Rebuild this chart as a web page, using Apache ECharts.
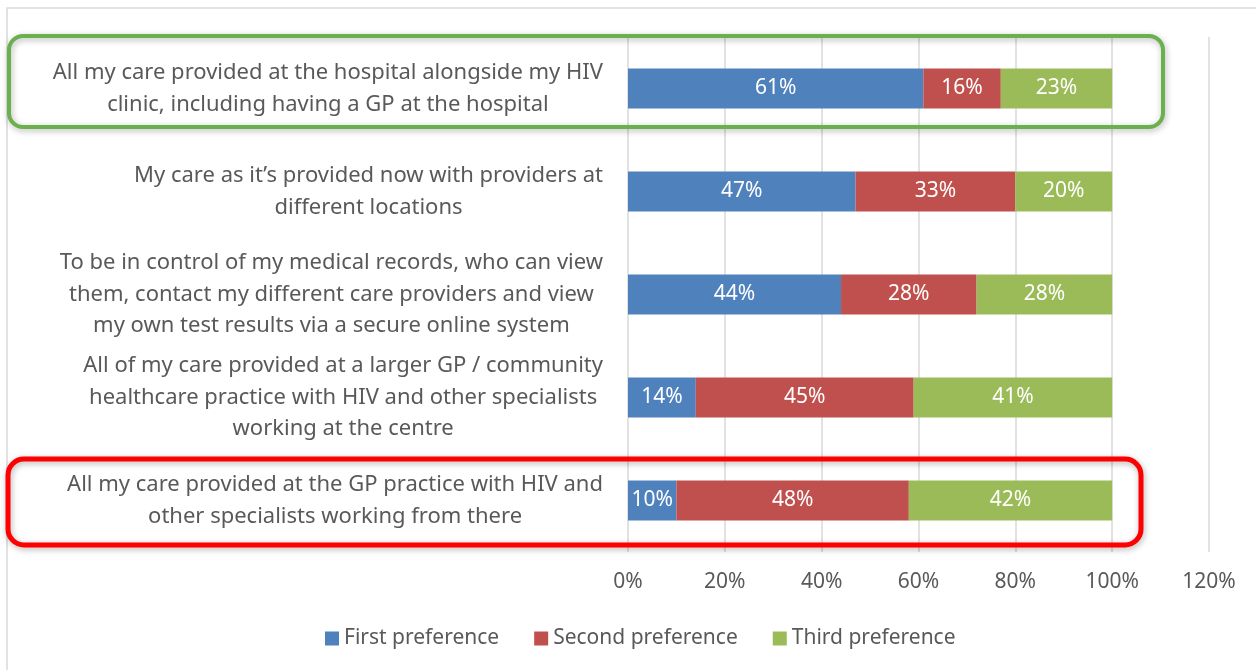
<!DOCTYPE html>
<html>
<head>
<meta charset="utf-8">
<script src="https://cdn.jsdelivr.net/npm/echarts@6/dist/echarts.min.js"></script>
<style>
  html, body { margin: 0; padding: 0; background: #fff; }
  #chart { width: 1256px; height: 670px; }
</style>
</head>
<body>
<div id="chart"></div>
<script>
var categories = [
  'All my care provided at the hospital alongside my HIV\nclinic, including having a GP at the hospital',
  'My care as it\u2019s provided now with providers at\ndifferent locations',
  'To be in control of my medical records, who can view\nthem, contact my different care providers and view\nmy own test results via a secure online system',
  'All of my care provided at a larger GP / community\nhealthcare practice with HIV and other specialists\nworking at the centre',
  'All my care provided at the GP practice with HIV and\nother specialists working from there'
];
var seriesNames = ['First preference', 'Second preference', 'Third preference'];
var firstPref = [61, 47, 44, 14, 10];
var secondPref = [16, 33, 28, 45, 48];
var thirdPref = [23, 20, 28, 41, 42];
var axisTicks = [0, 20, 40, 60, 80, 100, 120];

var FONT = '"Noto Sans", sans-serif';
var TEXT = '#595959';
var colors = ['#4F81BD', '#C0504D', '#9BBB59'];

var myChart = echarts.init(document.getElementById('chart'));

function barSeries(name, data, color) {
  return {
    name: name,
    type: 'bar',
    stack: 'total',
    barWidth: 40,
    data: data,
    itemStyle: { color: color },
    label: {
      show: true,
      position: 'inside',
      color: '#fff',
      fontSize: 21,
      fontFamily: FONT,
      formatter: '{c}%'
    }
  };
}

var option = {
  backgroundColor: '#fff',
  animation: false,
  grid: { left: 628, right: 47, top: 37, bottom: 118 },
  legend: {
    data: seriesNames,
    top: 623,
    left: 320,
    icon: 'rect',
    itemWidth: 14,
    itemHeight: 14,
    itemGap: 35,
    textStyle: { color: TEXT, fontSize: 21, fontFamily: FONT }
  },
  xAxis: {
    type: 'value',
    min: axisTicks[0],
    max: axisTicks[axisTicks.length - 1],
    interval: axisTicks[1] - axisTicks[0],
    axisLine: { show: false },
    axisTick: { show: false },
    splitLine: { lineStyle: { color: '#D9D9D9', width: 1.5 } },
    axisLabel: {
      margin: 20,
      color: TEXT,
      fontSize: 21,
      fontFamily: FONT,
      formatter: '{value}%'
    }
  },
  yAxis: {
    type: 'category',
    inverse: true,
    data: categories,
    axisLine: { show: false },
    axisTick: { show: false },
    axisLabel: {
      margin: 25,
      align: 'right',
      formatter: function (v) {
        return v.split('\n').map(function (s) { return '{c|' + s + '}'; }).join('\n');
      },
      rich: {
        c: { align: 'center', color: TEXT, fontSize: 22, lineHeight: 31.5, fontFamily: FONT }
      }
    }
  },
  series: [
    barSeries(seriesNames[0], firstPref, colors[0]),
    barSeries(seriesNames[1], secondPref, colors[1]),
    barSeries(seriesNames[2], thirdPref, colors[2])
  ],
  graphic: [
    {
      type: 'rect', silent: true, z: -1,
      shape: { x: 7, y: 8, width: 1300, height: 700 },
      style: { fill: 'none', stroke: '#D9D9D9', lineWidth: 1.5 }
    },
    {
      type: 'rect', silent: true, z: 100,
      shape: { x: 9, y: 36, width: 1154, height: 91, r: 14 },
      style: {
        fill: 'none', stroke: '#6AB04C', lineWidth: 4,
        shadowBlur: 6, shadowColor: 'rgba(0,0,0,0.3)', shadowOffsetX: 1, shadowOffsetY: 2
      }
    },
    {
      type: 'rect', silent: true, z: 100,
      shape: { x: 8, y: 459, width: 1133, height: 86, r: 16 },
      style: {
        fill: 'none', stroke: '#FF0000', lineWidth: 5,
        shadowBlur: 6, shadowColor: 'rgba(0,0,0,0.3)', shadowOffsetX: 1, shadowOffsetY: 2
      }
    }
  ]
};

myChart.setOption(option);
window.onresize = function () {
  myChart.resize();
};
</script>
</body>
</html>
